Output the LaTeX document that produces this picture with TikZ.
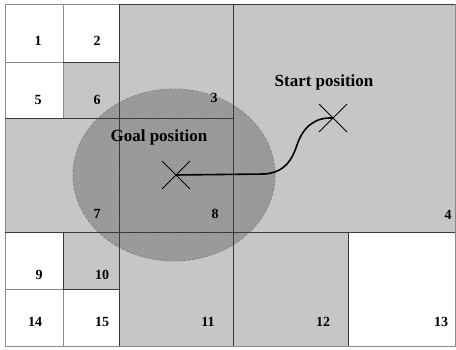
\documentclass[tikz,border=0pt]{standalone}
\usepackage{fontspec}
\setmainfont{Liberation Serif}
\usetikzlibrary{patterns}
\definecolor{hatchgray}{HTML}{C6C6C6}
\definecolor{circgray}{HTML}{A2A2A2}
\definecolor{darkline}{HTML}{3A3A3A}
\definecolor{lightline}{HTML}{8A8A8A}
\begin{document}
\begin{tikzpicture}[x=1pt,y=-1pt,
  hatch/.style={fill=hatchgray},
  free/.style={fill=white},
  darkedge/.style={draw=darkline, line width=0.6pt},
  lightedge/.style={draw=lightline, line width=0.9pt},
  num/.style={font=\bfseries\fontsize{14}{14}\selectfont, inner sep=0pt},
  lab/.style={font=\bfseries\fontsize{17}{17}\selectfont, inner sep=0pt},
  crossline/.style={line width=0.8pt},
  route/.style={line width=1.6pt, line cap=round}]
\useasboundingbox (0,0) rectangle (456,350);
\fill[white] (0,0) rectangle (456,350);
% hatched regions
\path[hatch] (119,4) rectangle (455,232);
\path[hatch] (5,118) rectangle (119,232);
\path[hatch] (63,62) rectangle (119,118);
\path[hatch] (63,232) rectangle (119,289);
\path[hatch] (119,232) rectangle (348,346);
% goal region
\path[fill=circgray] (174,175) ellipse [x radius=101, y radius=86];
\path[pattern=north west lines, pattern color=lightline] (174,175) ellipse [x radius=101, y radius=86];
\draw[draw=lightline, line width=0.9pt, dash pattern=on 3pt off 1.5pt] (174,175) ellipse [x radius=101, y radius=86];
% grid lines between free cells
\draw[lightedge] (5,62) -- (119,62);
\draw[lightedge] (63,4) -- (63,118);
\draw[lightedge] (5,289) -- (119,289);
\draw[lightedge] (63,232) -- (63,346);
\draw[lightedge] (5,4) rectangle (455,346);
% edges of hatched regions
\draw[darkedge] (119,4) -- (119,346);
\draw[darkedge] (233,4) -- (233,346);
\draw[darkedge] (5,118) -- (233,118);
\draw[darkedge] (5,232) -- (455,232);
\draw[darkedge] (63,118) -- (119,118);
\draw[darkedge] (63,62) -- (119,62);
\draw[darkedge] (63,232) -- (63,289) -- (119,289);
\draw[darkedge] (348,232) -- (348,346);
\draw[darkedge] (119,4) -- (455,4);
% cell numbers
\node[num] (n1) at (38,41) {1};
\node[num] (n2) at (97,41) {2};
\node[num] (n3) at (214,98) {3};
\node[num] (n4) at (448,215) {4};
\node[num] (n5) at (38,100) {5};
\node[num] (n6) at (97,100) {6};
\node[num] (n7) at (97,214) {7};
\node[num] (n8) at (215,214) {8};
\node[num] (n9) at (39,275) {9};
\node[num] (n10) at (102,275) {10};
\node[num] (n11) at (208,322) {11};
\node[num] (n12) at (323,322) {12};
\node[num] (n13) at (441,322) {13};
\node[num] (n14) at (35,322) {14};
\node[num] (n15) at (102,322) {15};
% labels
\node[lab] (goallab) at (159,137) {Goal position};
\node[lab] (startlab) at (324,82) {Start position};
% crosses
\coordinate (goal) at (176,175);
\coordinate (start) at (333,118);
\draw[crossline] ([shift={(-14,-14)}]goal) -- ([shift={(14,14)}]goal);
\draw[crossline] ([shift={(-14,14)}]goal) -- ([shift={(14,-14)}]goal);
\draw[crossline] ([shift={(-14,-14)}]start) -- ([shift={(14,14)}]start);
\draw[crossline] ([shift={(-14,14)}]start) -- ([shift={(14,-14)}]start);
% route
\coordinate (bend) at (265,174);
\draw[route] (goal) -- (bend) .. controls (285,172) and (292,160) .. (297,145) .. controls (303,127) and (315,117) .. (start);
\end{tikzpicture}
\end{document}
